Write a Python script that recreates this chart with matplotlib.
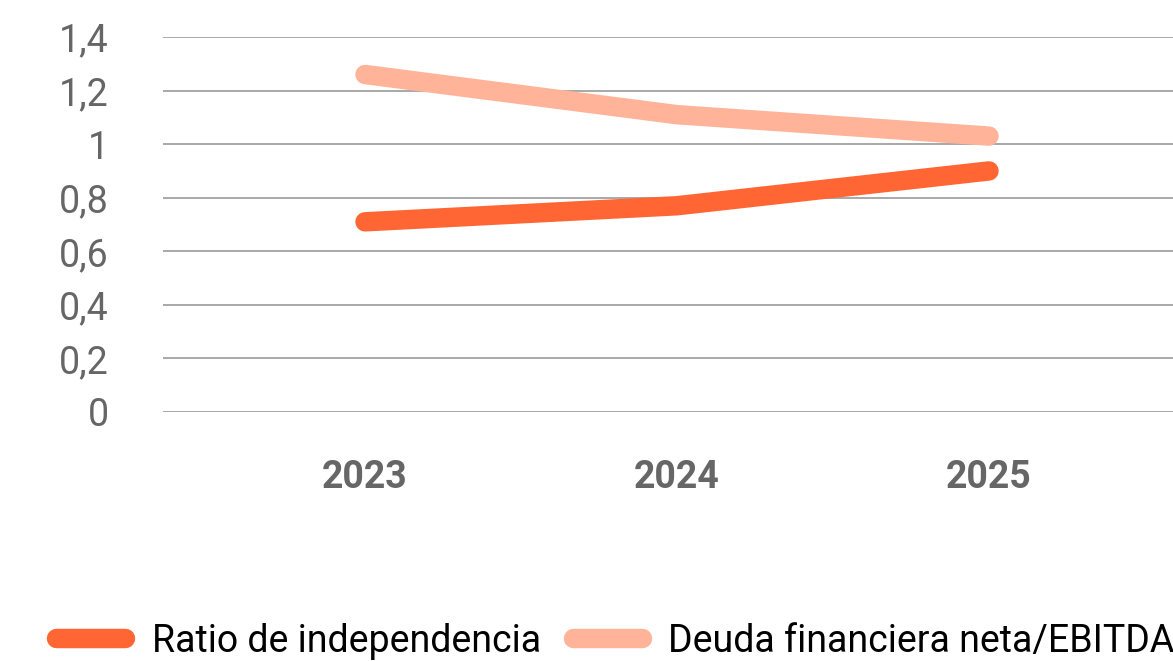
import matplotlib
matplotlib.use("Agg")
import matplotlib.pyplot as plt
from matplotlib.ticker import FuncFormatter

# data
years = ["2023", "2024", "2025"]
ratio_independencia = [0.71, 0.77, 0.90]
deuda_ebitda = [1.26, 1.11, 1.03]
y_ticks = [0, 0.2, 0.4, 0.6, 0.8, 1.0, 1.2, 1.4]

DARK = "#ff6633"
LIGHT = "#ffb399"

plt.rcParams["font.family"] = ["Roboto", "DejaVu Sans"]

W, H = 1173, 661
fig = plt.figure(figsize=(W / 100, H / 100), dpi=100)
# axes: x from 163 px to right edge, y from 412 (0) to 37 (1.4)
ax = fig.add_axes([163 / W, (H - 412) / H, 1 - 163 / W, 375 / H])

xs = list(range(len(years)))
ax.plot(xs, ratio_independencia, color=DARK, lw=14, solid_capstyle="round",
        solid_joinstyle="round", label="Ratio de independencia", zorder=3)
ax.plot(xs, deuda_ebitda, color=LIGHT, lw=14, solid_capstyle="round",
        solid_joinstyle="round", label="Deuda financiera neta/EBITDA", zorder=3)

unit = 312  # px per category
ax.set_xlim((163 - 365) / unit, (W - 365) / unit)
ax.set_ylim(0, 1.4)
ax.set_xticks(xs)
ax.set_xticklabels(years, fontsize=27, fontweight="bold", color="#666666")
ax.set_yticks(y_ticks)
ax.yaxis.set_major_formatter(FuncFormatter(lambda v, p: f"{v:g}".replace(".", ",")))
ax.tick_params(axis="y", labelsize=27, labelcolor="#666666", length=0, pad=39)
ax.tick_params(axis="x", length=0, pad=34)
ax.grid(axis="y", color="#999999", lw=1.2)
ax.set_axisbelow(True)
for s in ax.spines.values():
    s.set_visible(False)

# the legend runs past the right edge, as in the source image
fig.legend(loc="center left", bbox_to_anchor=(41 / W, 1 - 641 / H), ncol=2,
           frameon=False, fontsize=27, handlelength=1.85, handletextpad=0.7,
           columnspacing=0.85, borderaxespad=0)

fig.savefig("out.png", dpi=100)
